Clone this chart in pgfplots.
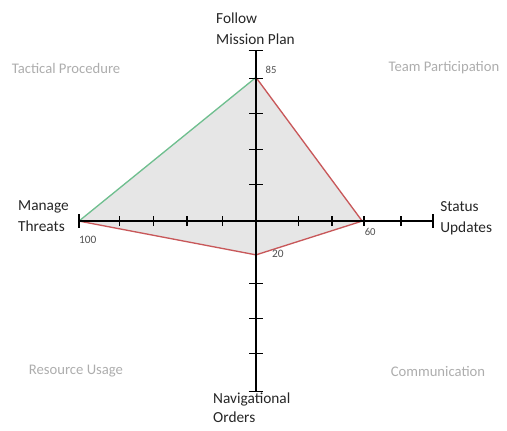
\documentclass[border=0pt]{standalone}
\usepackage{pgfplots}
\pgfplotsset{compat=1.18}
\usepackage{fontspec}
\setmainfont{Carlito}
\definecolor{fillgray}{HTML}{E6E6E6}
\definecolor{edgegreen}{HTML}{6FBF8F}
\definecolor{edgered}{HTML}{C8585A}
\definecolor{cornergray}{HTML}{ADADAD}
\definecolor{valgray}{HTML}{505050}
\begin{document}
\begin{tikzpicture}
\begin{axis}[x=1.3275pt, y=1.2675pt, xmin=-144.6, xmax=141.8, ymin=-123.7, ymax=130.8,
  hide axis, clip=false, unbounded coords=jump]
\path (axis cs:-144.6,-123.7) rectangle (axis cs:141.8,130.8);
% polygon
\addplot[fill=fillgray, draw=none] coordinates {(0,85) (60,0) (0,-20) (-100,0)} -- cycle;
\addplot[edgegreen, line width=1pt] coordinates {(-100,0) (0,85)};
\addplot[edgered, line width=1pt] coordinates {(0,85) (60,0) (0,-20) (-100,0)};
% axes
\addplot[black, line width=2pt] coordinates {(-100,0) (100,0)};
\addplot[black, line width=2pt] coordinates {(0,-101) (0,101)};
% ticks on horizontal axis
\addplot[black, line width=1pt] coordinates {
 (-77,-3) (-77,3) (-77,nan)
 (-58,-3) (-58,3) (-58,nan)
 (-39,-3) (-39,3) (-39,nan)
 (-19,-3) (-19,3) (-19,nan)
 (24,-3) (24,3) (24,nan)
 (43,-3) (43,3) (43,nan)
 (61,-3) (61,3) (61,nan)
 (82,-3) (82,3) (82,nan)
 (-100,-4) (-100,4) (-100,nan)
 (100,-4) (100,4)};
% ticks on vertical axis
\addplot[black, line width=1pt] coordinates {
 (-3.7,21.5) (3.7,21.5) (nan,21.5)
 (-3.7,42.5) (3.7,42.5) (nan,42.5)
 (-3.7,63.5) (3.7,63.5) (nan,63.5)
 (-3.7,84.4) (3.7,84.4) (nan,84.4)
 (-3.7,-37) (3.7,-37) (nan,-37)
 (-3.7,-57.5) (3.7,-57.5) (nan,-57.5)
 (-3.7,-78.4) (3.7,-78.4) (nan,-78.4)
 (-4.2,101) (4.2,101) (nan,101)
 (-4.2,-101) (4.2,-101)};
% axis labels
\node[anchor=west, align=left, inner sep=0pt, font=\fontsize{11.5}{16}\selectfont, text=black!85] at (axis cs:-22.6,113.6) {Follow\\Mission Plan};
\node[anchor=west, align=left, inner sep=0pt, font=\fontsize{11.5}{16}\selectfont, text=black!85] at (axis cs:-134.5,3.0) {Manage\\Threats};
\node[anchor=west, align=left, inner sep=0pt, font=\fontsize{11.5}{16}\selectfont, text=black!85] at (axis cs:104,1.8) {Status\\Updates};
\node[anchor=west, align=left, inner sep=0pt, font=\fontsize{11.5}{14.5}\selectfont, text=black!85] at (axis cs:-24.3,-110.5) {Navigational\\Orders};
% corner labels
\node[inner sep=0pt, font=\fontsize{11}{13}\selectfont, text=cornergray] at (axis cs:-107.3,90.5) {Tactical Procedure};
\node[inner sep=0pt, font=\fontsize{11}{13}\selectfont, text=cornergray] at (axis cs:106.2,90.5) {Team Participation};
\node[inner sep=0pt, font=\fontsize{11}{13}\selectfont, text=cornergray] at (axis cs:-101.7,-88.8) {Resource Usage};
\node[inner sep=0pt, font=\fontsize{11}{13}\selectfont, text=cornergray] at (axis cs:102.8,-88.8) {Communication};
% value labels
\node[inner sep=0pt, font=\fontsize{8}{9}\selectfont, text=valgray] at (axis cs:8.5,89.3) {85};
\node[inner sep=0pt, font=\fontsize{8}{9}\selectfont, text=valgray] at (axis cs:64.5,-6.5) {60};
\node[inner sep=0pt, font=\fontsize{8.5}{10}\selectfont, text=valgray] at (axis cs:12.4,-19.5) {20};
\node[inner sep=0pt, font=\fontsize{8.5}{10}\selectfont, text=valgray] at (axis cs:-95,-11.2) {100};
\end{axis}
\end{tikzpicture}
\end{document}
